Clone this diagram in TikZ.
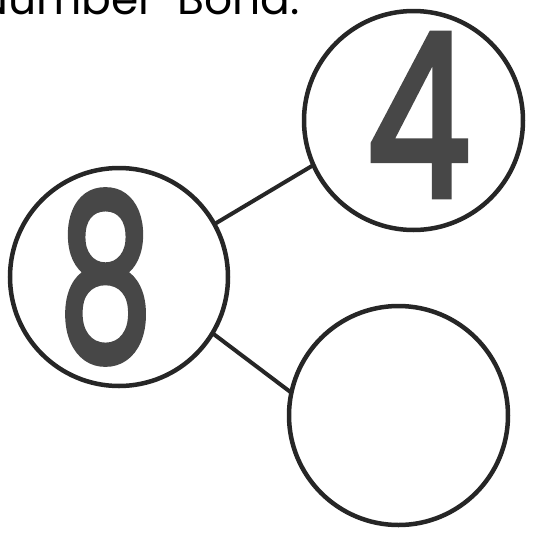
\documentclass[tikz,border=0pt]{standalone}
\usepackage{graphicx}
\usepackage{fontspec}
\setmainfont{Poppins}
\newfontfamily\digitfont[FakeBold=3]{Poppins}

\begin{document}
\begin{tikzpicture}[x=1pt, y=-1pt,
    bond/.style={draw=black!85, line width=4.5pt, circle, minimum size=219pt, inner sep=0pt, outer sep=0pt},
    link/.style={draw=black!85, line width=4pt},
    digit/.style={text=black!72, inner sep=0pt, font=\digitfont}]
    \useasboundingbox (0,0) rectangle (533,539);
    \clip (0,0) rectangle (533,539);
    % Title, cut off at the top
    \node[anchor=base east, inner sep=0pt, font=\fontsize{44}{50}\selectfont]
        (title) at (300,14) {Number\hspace{0.5em}Bond:};
    % Whole and parts
    \node[bond, minimum size=218pt] (whole) at (119,277) {};
    \node[bond] (part1) at (413.5,120.5) {};
    \node[bond] (part2) at (398.5,415.5) {};
    % Digits
    \node[digit] (eight) at (105.5,277) {\resizebox{94pt}{168pt}{8}};
    \node[digit] (four) at (418.5,115) {\resizebox{104pt}{162pt}{4}};
    % Links
    \draw[link] (whole.29) -- (part1.204);
    \draw[link] (whole.-31) -- (part2.168);
\end{tikzpicture}
\end{document}
